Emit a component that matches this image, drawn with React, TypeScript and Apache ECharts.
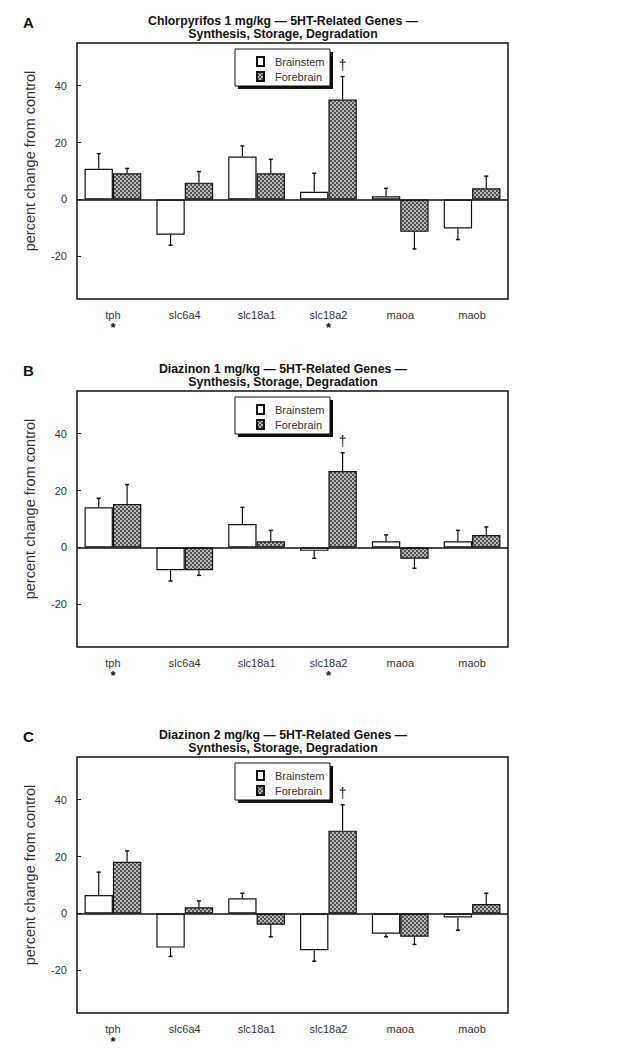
import React, { useEffect, useRef } from "react";
import * as echarts from "echarts";

const categories = ["tph", "slc6a4", "slc18a1", "slc18a2", "maoa", "maob"];
const seriesNames = ["Brainstem", "Forebrain"];
const yTicks = [-20, 0, 20, 40];

const panelLetters = ["A", "B", "C"];
const panelTitles = [
  "Chlorpyrifos 1 mg/kg — 5HT-Related Genes —\nSynthesis, Storage, Degradation",
  "Diazinon 1 mg/kg — 5HT-Related Genes —\nSynthesis, Storage, Degradation",
  "Diazinon 2 mg/kg — 5HT-Related Genes —\nSynthesis, Storage, Degradation",
];

// Panel A: Chlorpyrifos 1 mg/kg
const brainstemA = [10.8, -12.4, 15.1, 2.7, 1.1, -10.2];
const brainstemSeA = [5.3, 3.7, 3.7, 6.5, 2.8, 3.9];
const forebrainA = [9.2, 5.9, 9.2, 35.1, -11.4, 3.9];
const forebrainSeA = [1.7, 3.9, 4.9, 8.1, 6.0, 4.3];
const starsA = ["tph", "slc18a2"];
const daggersA = ["slc18a2"];

// Panel B: Diazinon 1 mg/kg
const brainstemB = [14.1, -8.0, 8.2, -1.2, 2.2, 2.2];
const brainstemSeB = [3.2, 3.8, 5.9, 2.6, 2.2, 3.8];
const forebrainB = [15.3, -8.0, 2.2, 26.9, -4.0, 4.4];
const forebrainSeB = [6.8, 1.8, 3.8, 6.4, 3.3, 2.8];
const starsB = ["tph", "slc18a2"];
const daggersB = ["slc18a2"];

// Panel C: Diazinon 2 mg/kg
const brainstemC = [6.5, -12.0, 5.3, -12.9, -7.1, -1.4];
const brainstemSeC = [8.0, 3.1, 1.8, 3.9, 1.1, 4.5];
const forebrainC = [18.2, 2.2, -4.0, 29.1, -8.2, 3.3];
const forebrainSeC = [3.8, 2.2, 4.2, 9.1, 2.7, 3.8];
const starsC = ["tph"];
const daggersC = ["slc18a2"];

const panels = [
  { b: brainstemA, bse: brainstemSeA, f: forebrainA, fse: forebrainSeA, stars: starsA, daggers: daggersA },
  { b: brainstemB, bse: brainstemSeB, f: forebrainB, fse: forebrainSeB, stars: starsB, daggers: daggersB },
  { b: brainstemC, bse: brainstemSeC, f: forebrainC, fse: forebrainSeC, stars: starsC, daggers: daggersC },
];

const FONT = "Liberation Sans, Arial, Helvetica, sans-serif";
const gridTops = [43, 391, 757];
const GRID_LEFT = 77;
const GRID_W = 431;
const GRID_H = 256;
const CAT_GAP = 0.21;

function makePattern() {
  const c = document.createElement("canvas");
  c.width = 4;
  c.height = 4;
  const ctx = c.getContext("2d")!;
  ctx.fillStyle = "#505050";
  ctx.fillRect(0, 0, 4, 4);
  ctx.fillStyle = "#e8e8e8";
  ctx.beginPath();
  ctx.arc(1, 1, 0.95, 0, Math.PI * 2);
  ctx.fill();
  ctx.beginPath();
  ctx.arc(3, 3, 0.95, 0, Math.PI * 2);
  ctx.fill();
  return c;
}

export default function App() {
  const ref = useRef<HTMLDivElement>(null);

  useEffect(() => {
    if (!ref.current) return;
    const chart = echarts.init(ref.current, null, { renderer: "svg" });
    const pattern = { image: makePattern(), repeat: "repeat" };

    const grids: any[] = [];
    const xAxes: any[] = [];
    const yAxes: any[] = [];
    const series: any[] = [];
    const titles: any[] = [];
    const legends: any[] = [];
    const graphics: any[] = [];

    panels.forEach((p, i) => {
      const top = gridTops[i];
      grids.push({
        left: GRID_LEFT,
        top,
        width: GRID_W,
        height: GRID_H,
        show: true,
        borderColor: "#111",
        borderWidth: 1.5,
        backgroundColor: "transparent",
      });
      xAxes.push({
        type: "category",
        gridIndex: i,
        data: categories,
        position: "bottom",
        axisLine: { show: false, onZero: false },
        axisTick: { show: false },
        axisLabel: {
          interval: 0,
          margin: 10,
          formatter: (v: string) => (p.stars.includes(v) ? `{n|${v}}\n{s|*}` : `{n|${v}}`),
          rich: {
            n: { fontSize: 11, color: "#333", fontFamily: FONT, lineHeight: 12 },
            s: { fontSize: 13, fontWeight: "bold", color: "#111", fontFamily: FONT, lineHeight: 12 },
          },
        },
      });
      yAxes.push({
        type: "value",
        gridIndex: i,
        min: -35,
        max: 55,
        name: "percent change from control",
        nameLocation: "middle",
        nameGap: 40,
        nameTextStyle: { fontSize: 14.5, color: "#333", fontFamily: FONT, padding: [0, 0, 0, 20] },
        axisLine: { show: false },
        splitLine: { show: false },
        axisTick: { show: true, inside: true, length: 4, customValues: yTicks, lineStyle: { color: "#222" } },
        axisLabel: { customValues: yTicks, fontSize: 11, color: "#333", fontFamily: FONT, margin: 10 },
      });

      const vals = [p.b, p.f];
      const ses = [p.bse, p.fse];
      vals.forEach((arr, s) => {
        series.push({
          type: "bar",
          name: seriesNames[s],
          xAxisIndex: i,
          yAxisIndex: i,
          data: arr,
          barGap: "0%",
          barCategoryGap: `${CAT_GAP * 100}%`,
          itemStyle: {
            color: s === 0 ? "#ffffff" : pattern,
            borderColor: "#111",
            borderWidth: 1.2,
          },
          markLine:
            s === 0
              ? {
                  silent: true,
                  symbol: "none",
                  label: { show: false },
                  lineStyle: { color: "#111", width: 1.5, type: "solid" },
                  data: [{ yAxis: 0 }],
                }
              : undefined,
        });
      });
      vals.forEach((arr, s) => {
        series.push({
          type: "custom",
          name: `err-${s}`,
          xAxisIndex: i,
          yAxisIndex: i,
          z: 5,
          itemStyle: { color: "#111" },
          data: arr.map((v, k) => [k, v, v >= 0 ? v + ses[s][k] : v - ses[s][k], s === 1 && p.daggers.includes(categories[k]) ? 1 : 0]),
          renderItem: (params: any, api: any) => {
            const ci = api.value(0);
            const v = api.value(1);
            const tipV = api.value(2);
            const dag = api.value(3);
            const catW = api.size([1, 0])[0];
            const bw = (catW * (1 - CAT_GAP)) / 2;
            const off = s === 0 ? -bw / 2 : bw / 2;
            const base = api.coord([ci, v]);
            const tip = api.coord([ci, tipV]);
            const x = base[0] + off;
            const children: any[] = [
              { type: "line", shape: { x1: x, y1: base[1], x2: x, y2: tip[1] }, style: { stroke: "#111", lineWidth: 1.2 } },
              { type: "line", shape: { x1: x - 2, y1: tip[1], x2: x + 2, y2: tip[1] }, style: { stroke: "#111", lineWidth: 1.5 } },
            ];
            if (dag) {
              children.push({
                type: "text",
                style: {
                  text: "†",
                  x,
                  y: tip[1] - 5,
                  align: "center",
                  verticalAlign: "bottom",
                  fontSize: 14,
                  fontFamily: FONT,
                  fill: "#111",
                  stroke: "none",
                  lineWidth: 0,
                },
              });
            }
            return { type: "group", children };
          },
        });
      });

      titles.push({
        text: panelTitles[i],
        left: 283,
        top: top - 28,
        textAlign: "center",
        textStyle: { fontSize: 12.3, fontWeight: "bold", color: "#111", fontFamily: FONT, lineHeight: 12.5 },
        padding: 0,
      });
      titles.push({
        text: panelLetters[i],
        left: 23,
        top: top - 28,
        textStyle: { fontSize: 15, fontWeight: "bold", color: "#111", fontFamily: FONT },
        padding: 0,
      });

      legends.push({
        data: seriesNames,
        orient: "vertical",
        left: 256,
        top: top + 13,
        itemWidth: 7,
        itemHeight: 9,
        itemGap: 4,
        padding: 0,
        icon: "rect",
        selectedMode: false,
        z: 10,
        textStyle: { fontSize: 11, color: "#333", fontFamily: FONT, padding: [0, 0, 0, 6] },
      });

      graphics.push({
        type: "rect",
        shape: { x: 238, y: top + 9, width: 95, height: 37 },
        style: { fill: "#111" },
        z: 8,
      });
      graphics.push({
        type: "rect",
        shape: { x: 235, y: top + 6, width: 95, height: 37 },
        style: { fill: "#fff", stroke: "#111", lineWidth: 1 },
        z: 9,
      });
    });

    chart.setOption({
      animation: false,
      backgroundColor: "#fff",
      textStyle: { fontFamily: FONT },
      title: titles,
      legend: legends,
      grid: grids,
      xAxis: xAxes,
      yAxis: yAxes,
      series,
      graphic: graphics,
    });

    return () => chart.dispose();
  }, []);

  return (
    <div
      ref={ref}
      style={{ position: "absolute", left: 0, top: 0, width: 622, height: 1052 }}
    />
  );
}
